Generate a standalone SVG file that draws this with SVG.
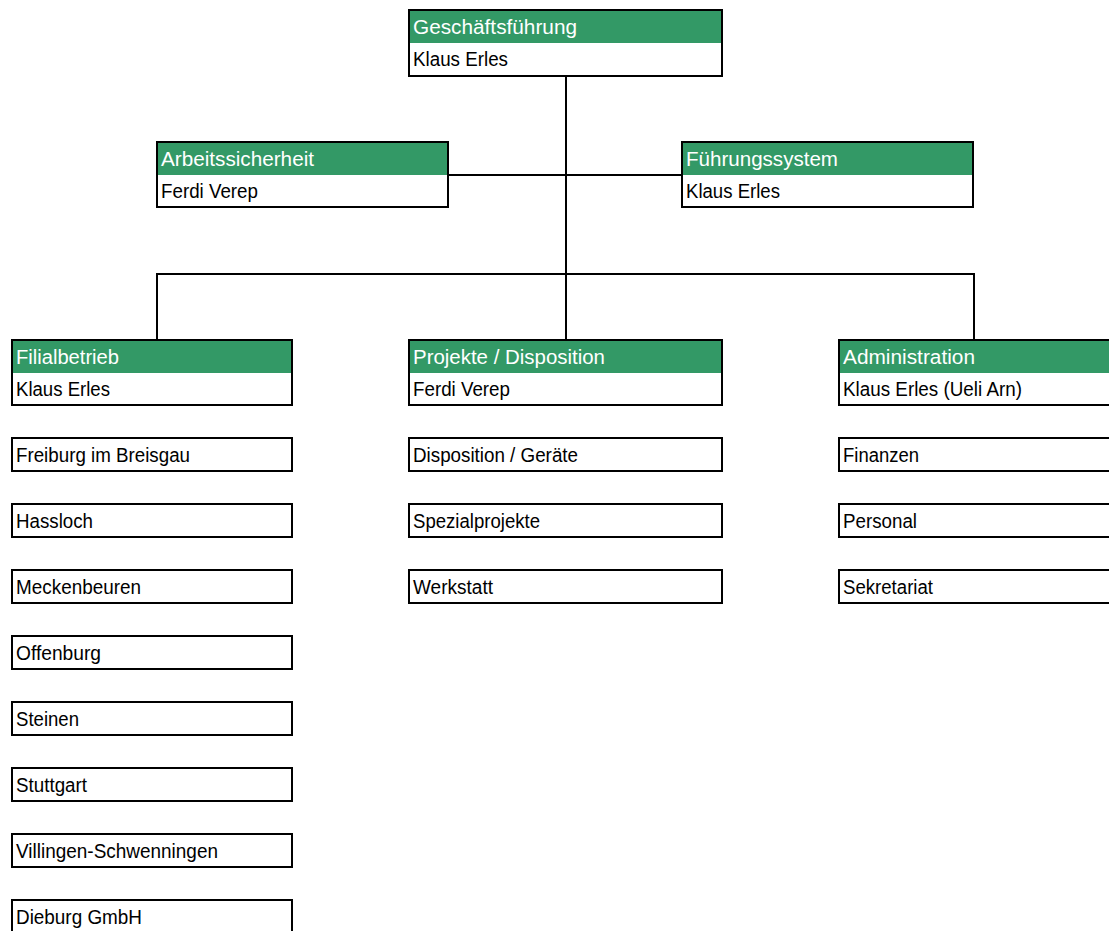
<svg xmlns="http://www.w3.org/2000/svg" width="1109" height="931" viewBox="0 0 1109 931">
<style>
.box{fill:#fff;stroke:#000;stroke-width:2}
.hd{fill:#339966}
.t{font-family:"Liberation Sans Narrow","Liberation Sans",Arial,sans-serif;font-size:19.5px;fill:#000}
.w{fill:#fff}
.c{stroke:#000;stroke-width:2;fill:none}
</style>
<rect width="1109" height="931" fill="#fff"/>
<g id="connectors">
<path class="c" d="M566 76V340M448 175H683M157 340V274H974V340"/>
</g>
<g id="n-gf"><rect class="box" x="409" y="10" width="313" height="66"/><rect class="hd" x="410" y="11" width="311" height="32"/><text class="t w" x="413" y="34" textLength="164" lengthAdjust="spacingAndGlyphs">Geschäftsführung</text><text class="t" x="413" y="66" textLength="95" lengthAdjust="spacingAndGlyphs">Klaus Erles</text></g>
<g id="n-as"><rect class="box" x="157" y="142" width="291" height="65"/><rect class="hd" x="158" y="143" width="289" height="32"/><text class="t w" x="161" y="166" textLength="153" lengthAdjust="spacingAndGlyphs">Arbeitssicherheit</text><text class="t" x="161" y="198" textLength="97" lengthAdjust="spacingAndGlyphs">Ferdi Verep</text></g>
<g id="n-fs"><rect class="box" x="682" y="142" width="291" height="65"/><rect class="hd" x="683" y="143" width="289" height="32"/><text class="t w" x="686" y="166" textLength="152" lengthAdjust="spacingAndGlyphs">Führungssystem</text><text class="t" x="686" y="198" textLength="94" lengthAdjust="spacingAndGlyphs">Klaus Erles</text></g>
<g id="n-fb"><rect class="box" x="12" y="340" width="280" height="65"/><rect class="hd" x="13" y="341" width="278" height="32"/><text class="t w" x="16" y="364" textLength="103" lengthAdjust="spacingAndGlyphs">Filialbetrieb</text><text class="t" x="16" y="396" textLength="94" lengthAdjust="spacingAndGlyphs">Klaus Erles</text></g>
<g id="n-pd"><rect class="box" x="409" y="340" width="313" height="65"/><rect class="hd" x="410" y="341" width="311" height="32"/><text class="t w" x="413" y="364" textLength="192" lengthAdjust="spacingAndGlyphs">Projekte / Disposition</text><text class="t" x="413" y="396" textLength="97" lengthAdjust="spacingAndGlyphs">Ferdi Verep</text></g>
<g id="n-ad"><rect class="box" x="839" y="340" width="290" height="65"/><rect class="hd" x="840" y="341" width="290" height="32"/><text class="t w" x="843" y="364" textLength="132" lengthAdjust="spacingAndGlyphs">Administration</text><text class="t" x="843" y="396" textLength="179" lengthAdjust="spacingAndGlyphs">Klaus Erles (Ueli Arn)</text></g>
<g id="n-f1"><rect class="box" x="12" y="438" width="280" height="33"/><text class="t" x="16" y="462" textLength="174" lengthAdjust="spacingAndGlyphs">Freiburg im Breisgau</text></g>
<g id="n-f2"><rect class="box" x="12" y="504" width="280" height="33"/><text class="t" x="16" y="528" textLength="77" lengthAdjust="spacingAndGlyphs">Hassloch</text></g>
<g id="n-f3"><rect class="box" x="12" y="570" width="280" height="33"/><text class="t" x="16" y="594" textLength="125" lengthAdjust="spacingAndGlyphs">Meckenbeuren</text></g>
<g id="n-f4"><rect class="box" x="12" y="636" width="280" height="33"/><text class="t" x="16" y="660" textLength="85" lengthAdjust="spacingAndGlyphs">Offenburg</text></g>
<g id="n-f5"><rect class="box" x="12" y="702" width="280" height="33"/><text class="t" x="16" y="726" textLength="63" lengthAdjust="spacingAndGlyphs">Steinen</text></g>
<g id="n-f6"><rect class="box" x="12" y="768" width="280" height="33"/><text class="t" x="16" y="792" textLength="71" lengthAdjust="spacingAndGlyphs">Stuttgart</text></g>
<g id="n-f7"><rect class="box" x="12" y="834" width="280" height="33"/><text class="t" x="16" y="858" textLength="202" lengthAdjust="spacingAndGlyphs">Villingen-Schwenningen</text></g>
<g id="n-f8"><rect class="box" x="12" y="900" width="280" height="40"/><text class="t" x="16" y="924" textLength="126" lengthAdjust="spacingAndGlyphs">Dieburg GmbH</text></g>
<g id="n-p1"><rect class="box" x="409" y="438" width="313" height="33"/><text class="t" x="413" y="462" textLength="165" lengthAdjust="spacingAndGlyphs">Disposition / Geräte</text></g>
<g id="n-p2"><rect class="box" x="409" y="504" width="313" height="33"/><text class="t" x="413" y="528" textLength="127" lengthAdjust="spacingAndGlyphs">Spezialprojekte</text></g>
<g id="n-p3"><rect class="box" x="409" y="570" width="313" height="33"/><text class="t" x="413" y="594" textLength="80" lengthAdjust="spacingAndGlyphs">Werkstatt</text></g>
<g id="n-a1"><rect class="box" x="839" y="438" width="290" height="33"/><text class="t" x="843" y="462" textLength="76" lengthAdjust="spacingAndGlyphs">Finanzen</text></g>
<g id="n-a2"><rect class="box" x="839" y="504" width="290" height="33"/><text class="t" x="843" y="528" textLength="74" lengthAdjust="spacingAndGlyphs">Personal</text></g>
<g id="n-a3"><rect class="box" x="839" y="570" width="290" height="33"/><text class="t" x="843" y="594" textLength="90" lengthAdjust="spacingAndGlyphs">Sekretariat</text></g>
</svg>
